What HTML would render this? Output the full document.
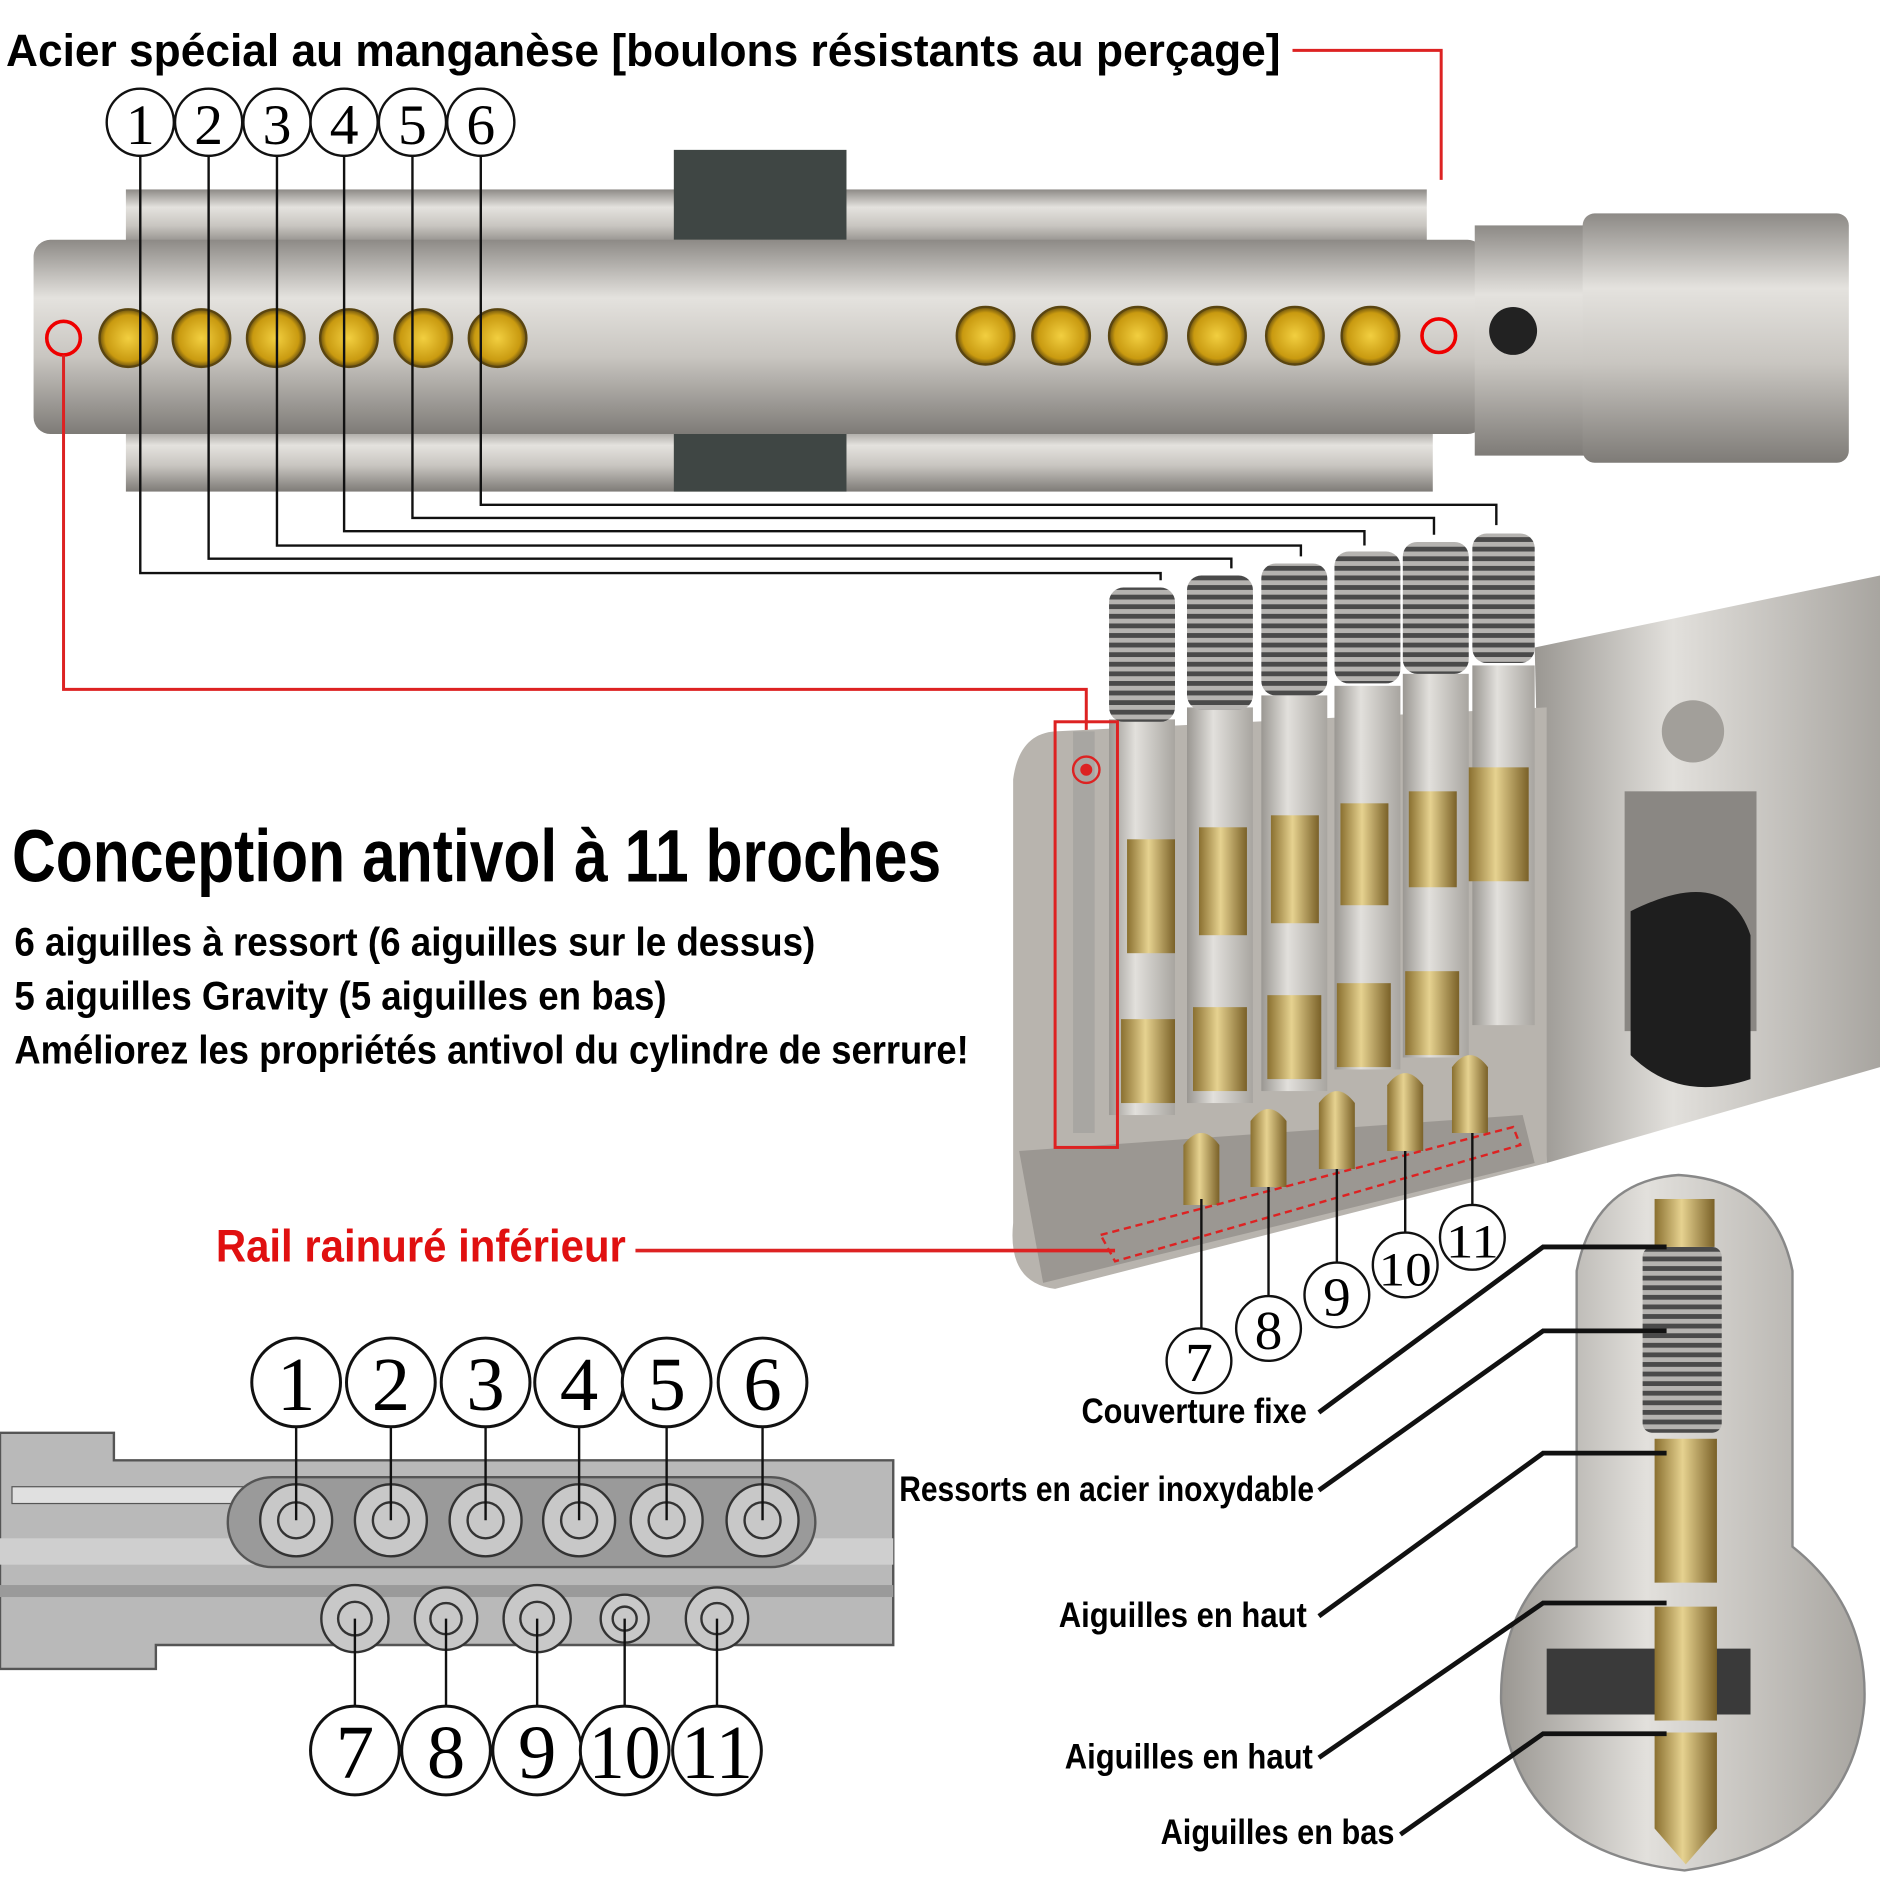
<!DOCTYPE html>
<html><head><meta charset="utf-8"><style>
html,body{margin:0;padding:0;background:#fff}
svg{display:block}
.t{font-family:"Liberation Sans Narrow","Liberation Sans",sans-serif;font-weight:bold}
</style></head><body>
<svg width="1880" height="1880" viewBox="0 0 1568 1568" xmlns="http://www.w3.org/2000/svg">
<defs>
<linearGradient id="sv" x1="0" y1="0" x2="0" y2="1">
<stop offset="0" stop-color="#8d8a86"/><stop offset="0.3" stop-color="#e4e2de"/><stop offset="0.6" stop-color="#c9c6c1"/><stop offset="1" stop-color="#7e7b77"/></linearGradient>
<linearGradient id="svh" x1="0" y1="0" x2="1" y2="0">
<stop offset="0" stop-color="#9a9792"/><stop offset="0.4" stop-color="#e2e0dc"/><stop offset="1" stop-color="#a8a5a0"/></linearGradient>
<linearGradient id="gd" x1="0" y1="0" x2="1" y2="0">
<stop offset="0" stop-color="#8a7030"/><stop offset="0.45" stop-color="#e6d290"/><stop offset="1" stop-color="#7a6128"/></linearGradient>
<radialGradient id="gdot"><stop offset="0" stop-color="#f2cf40"/><stop offset="0.8" stop-color="#c99a10"/><stop offset="1" stop-color="#6b5210"/></radialGradient>
<pattern id="spr" width="10" height="8" patternUnits="userSpaceOnUse"><rect width="10" height="8" fill="#b5b3b0"/><rect y="0" width="10" height="4" fill="#4a4a4a"/></pattern>
</defs>

<!-- top cylinder -->
<rect x="105" y="158" width="1085" height="50" fill="url(#sv)"/>
<rect x="105" y="355" width="1090" height="55" fill="url(#sv)"/>
<rect x="562" y="125" width="144" height="75" fill="#3f4644"/>
<rect x="562" y="360" width="144" height="50" fill="#3f4644"/>
<rect x="28" y="200" width="1210" height="162" rx="14" fill="url(#sv)"/>
<rect x="1230" y="188" width="100" height="192" fill="url(#sv)"/>
<rect x="1320" y="178" width="222" height="208" rx="10" fill="url(#sv)"/>
<circle cx="1262" cy="276" r="20" fill="#222"/>
<g fill="url(#gdot)" stroke="#5a4510" stroke-width="2">
<circle cx="107" cy="282" r="24"/><circle cx="168" cy="282" r="24"/><circle cx="230" cy="282" r="24"/><circle cx="291" cy="282" r="24"/><circle cx="353" cy="282" r="24"/><circle cx="415" cy="282" r="24"/>
<circle cx="822" cy="280" r="24"/><circle cx="885" cy="280" r="24"/><circle cx="949" cy="280" r="24"/><circle cx="1015" cy="280" r="24"/><circle cx="1080" cy="280" r="24"/><circle cx="1143" cy="280" r="24"/>
</g>
<g fill="none" stroke="#e00" stroke-width="3"><circle cx="53" cy="282" r="14"/><circle cx="1200" cy="280" r="14"/></g>

<text class="t" x="5" y="55" font-size="38" textLength="1063" lengthAdjust="spacingAndGlyphs">Acier spécial au manganèse [boulons résistants au perçage]</text>
<polyline points="1078,42 1202,42 1202,150" fill="none" stroke="#d22" stroke-width="2.5"/>

<!-- number circles top -->
<g fill="#fff" stroke="#111" stroke-width="2">
<circle cx="117" cy="102" r="28"/><circle cx="174" cy="102" r="28"/><circle cx="231" cy="102" r="28"/><circle cx="287" cy="102" r="28"/><circle cx="344" cy="102" r="28"/><circle cx="401" cy="102" r="28"/></g>
<g font-family="Liberation Serif,serif" font-size="48" text-anchor="middle">
<text x="117" y="120">1</text><text x="174" y="120">2</text><text x="231" y="120">3</text><text x="287" y="120">4</text><text x="344" y="120">5</text><text x="401" y="120">6</text></g>
<g fill="none" stroke="#111" stroke-width="2">
<polyline points="117,130 117,478 968,478 968,484"/>
<polyline points="174,130 174,466 1027,466 1027,474"/>
<polyline points="231,130 231,455 1085,455 1085,464"/>
<polyline points="287,130 287,443 1138,443 1138,455"/>
<polyline points="344,130 344,432 1196,432 1196,446"/>
<polyline points="401,130 401,421 1248,421 1248,438"/>
</g>
<polyline points="53,296 53,575 906,575 906,640" fill="none" stroke="#d22" stroke-width="2.5"/>

<!-- cutaway -->
<path d="M1280 540 L1568 480 L1568 890 L1290 970 Z" fill="url(#svh)"/>
<rect x="1355" y="660" width="110" height="200" fill="#8a8783"/>
<path d="M1360 760 Q1440 720 1460 780 L1460 900 Q1400 920 1360 880Z" fill="#1e1e1e"/>
<circle cx="1412" cy="610" r="26" fill="#a29f9a"/>
<path d="M880 610 L1290 590 L1290 970 L880 1075 Q840 1070 845 1020 L845 650 Q850 612 880 610Z" fill="#b8b4ae"/>
<path d="M850 960 L1270 930 L1280 970 L870 1070Z" fill="#9b9792"/>
<g>
<rect x="925" y="600" width="55" height="330" fill="url(#svh)"/>
<rect x="990" y="590" width="55" height="330" fill="url(#svh)"/>
<rect x="1052" y="580" width="55" height="330" fill="url(#svh)"/>
<rect x="1113" y="572" width="55" height="320" fill="url(#svh)"/>
<rect x="1170" y="562" width="55" height="320" fill="url(#svh)"/>
<rect x="1228" y="555" width="52" height="300" fill="url(#svh)"/>
</g>
<g fill="url(#spr)">
<rect x="925" y="490" width="55" height="112" rx="12"/>
<rect x="990" y="480" width="55" height="112" rx="12"/>
<rect x="1052" y="470" width="55" height="110" rx="12"/>
<rect x="1113" y="460" width="55" height="110" rx="12"/>
<rect x="1170" y="452" width="55" height="110" rx="12"/>
<rect x="1228" y="445" width="52" height="108" rx="12"/>
</g>
<g fill="url(#gd)">
<rect x="940" y="700" width="40" height="95"/><rect x="1000" y="690" width="40" height="90"/><rect x="1060" y="680" width="40" height="90"/><rect x="1118" y="670" width="40" height="85"/><rect x="1175" y="660" width="40" height="80"/><rect x="1225" y="640" width="50" height="95"/>
<rect x="935" y="850" width="45" height="70"/><rect x="995" y="840" width="45" height="70"/><rect x="1057" y="830" width="45" height="70"/><rect x="1115" y="820" width="45" height="70"/><rect x="1172" y="810" width="45" height="70"/>
<path d="M987 1005 L987 955 Q1002 935 1017 955 L1017 1005Z"/><path d="M1043 990 L1043 935 Q1058 915 1073 935 L1073 990Z"/><path d="M1100 975 L1100 920 Q1115 900 1130 920 L1130 975Z"/><path d="M1157 960 L1157 905 Q1172 885 1187 905 L1187 960Z"/><path d="M1211 945 L1211 890 Q1226 870 1241 890 L1241 945Z"/>
</g>
<rect x="880" y="602" width="52" height="355" fill="none" stroke="#d22" stroke-width="2.5"/>
<rect x="895" y="610" width="18" height="335" fill="#a8a6a2"/>
<circle cx="906" cy="642" r="11" fill="none" stroke="#d22" stroke-width="2"/><circle cx="906" cy="642" r="5" fill="#d22"/>
<polygon points="918,1030 1262,940 1268,955 930,1052" fill="none" stroke="#d22" stroke-width="2" stroke-dasharray="6,4"/>

<text class="t" x="10" y="735" font-size="62" textLength="775" lengthAdjust="spacingAndGlyphs">Conception antivol à 11 broches</text>
<text class="t" x="12" y="797" font-size="33" textLength="668" lengthAdjust="spacingAndGlyphs">6 aiguilles à ressort (6 aiguilles sur le dessus)</text>
<text class="t" x="12" y="842" font-size="33" textLength="544" lengthAdjust="spacingAndGlyphs">5 aiguilles Gravity (5 aiguilles en bas)</text>
<text class="t" x="12" y="887" font-size="33" textLength="796" lengthAdjust="spacingAndGlyphs">Améliorez les propriétés antivol du cylindre de serrure!</text>
<text class="t" x="180" y="1052" font-size="38" fill="#e01010" textLength="342" lengthAdjust="spacingAndGlyphs">Rail rainuré inférieur</text>
<line x1="530" y1="1043" x2="930" y2="1043" stroke="#d22" stroke-width="3"/>

<g stroke="#111" stroke-width="2">
<line x1="1002" y1="1000" x2="1002" y2="1108"/><line x1="1058" y1="990" x2="1058" y2="1082"/><line x1="1115" y1="975" x2="1115" y2="1054"/><line x1="1172" y1="960" x2="1172" y2="1028"/><line x1="1228" y1="945" x2="1228" y2="1006"/></g>
<g fill="#fff" stroke="#111" stroke-width="2">
<circle cx="1000" cy="1135" r="27"/><circle cx="1058" cy="1108" r="27"/><circle cx="1115" cy="1080" r="27"/><circle cx="1172" cy="1055" r="27"/><circle cx="1228" cy="1032" r="27"/></g>
<g font-family="Liberation Serif,serif" font-size="46" text-anchor="middle">
<text x="1000" y="1152">7</text><text x="1058" y="1125">8</text><text x="1115" y="1097">9</text><text x="1172" y="1072" font-size="40" textLength="44" lengthAdjust="spacingAndGlyphs">10</text><text x="1228" y="1049" font-size="40" textLength="44" lengthAdjust="spacingAndGlyphs">11</text></g>

<!-- bottom left diagram -->
<path d="M0 1195 L95 1195 L95 1218 L745 1218 L745 1372 L130 1372 L130 1392 L0 1392Z" fill="#b9b9b9" stroke="#555" stroke-width="2"/>
<rect x="10" y="1240" width="230" height="14" fill="#e0e0e0" stroke="#555"/>
<rect x="0" y="1322" width="745" height="10" fill="#9a9a9a"/>
<rect x="0" y="1283" width="745" height="22" fill="#cfcfcf"/>
<rect x="190" y="1232" width="490" height="75" rx="37" fill="#9a9a9a" stroke="#555" stroke-width="2"/>
<g fill="#c8c8c8" stroke="#333" stroke-width="2">
<circle cx="247" cy="1268" r="30"/><circle cx="326" cy="1268" r="30"/><circle cx="405" cy="1268" r="30"/><circle cx="483" cy="1268" r="30"/><circle cx="556" cy="1268" r="30"/><circle cx="636" cy="1268" r="30"/>
<circle cx="296" cy="1350" r="28"/><circle cx="372" cy="1350" r="26"/><circle cx="448" cy="1350" r="28"/><circle cx="521" cy="1350" r="20"/><circle cx="598" cy="1350" r="26"/></g>
<g fill="none" stroke="#333" stroke-width="2">
<circle cx="247" cy="1268" r="15"/><circle cx="326" cy="1268" r="15"/><circle cx="405" cy="1268" r="15"/><circle cx="483" cy="1268" r="15"/><circle cx="556" cy="1268" r="15"/><circle cx="636" cy="1268" r="15"/>
<circle cx="296" cy="1350" r="14"/><circle cx="372" cy="1350" r="13"/><circle cx="448" cy="1350" r="14"/><circle cx="521" cy="1350" r="10"/><circle cx="598" cy="1350" r="13"/></g>
<g stroke="#111" stroke-width="2">
<line x1="247" y1="1190" x2="247" y2="1268"/><line x1="326" y1="1190" x2="326" y2="1268"/><line x1="405" y1="1190" x2="405" y2="1268"/><line x1="483" y1="1190" x2="483" y2="1268"/><line x1="556" y1="1190" x2="556" y2="1268"/><line x1="636" y1="1190" x2="636" y2="1268"/>
<line x1="296" y1="1350" x2="296" y2="1423"/><line x1="372" y1="1350" x2="372" y2="1423"/><line x1="448" y1="1350" x2="448" y2="1423"/><line x1="521" y1="1350" x2="521" y2="1423"/><line x1="598" y1="1350" x2="598" y2="1423"/></g>
<g fill="#fff" stroke="#111" stroke-width="2.5">
<circle cx="247" cy="1153" r="37"/><circle cx="326" cy="1153" r="37"/><circle cx="405" cy="1153" r="37"/><circle cx="483" cy="1153" r="37"/><circle cx="556" cy="1153" r="37"/><circle cx="636" cy="1153" r="37"/>
<circle cx="296" cy="1460" r="37"/><circle cx="372" cy="1460" r="37"/><circle cx="448" cy="1460" r="37"/><circle cx="521" cy="1460" r="37"/><circle cx="598" cy="1460" r="37"/></g>
<g font-family="Liberation Serif,serif" font-size="64" text-anchor="middle">
<text x="247" y="1176">1</text><text x="326" y="1176">2</text><text x="405" y="1176">3</text><text x="483" y="1176">4</text><text x="556" y="1176">5</text><text x="636" y="1176">6</text>
<text x="296" y="1483">7</text><text x="372" y="1483">8</text><text x="448" y="1483">9</text><text x="521" y="1483" textLength="60" lengthAdjust="spacingAndGlyphs">10</text><text x="598" y="1483" textLength="60" lengthAdjust="spacingAndGlyphs">11</text></g>

<!-- bottom right pin figure -->
<path d="M1315 1060 Q1330 985 1400 980 Q1480 985 1495 1060 L1495 1290 Q1558 1340 1555 1420 Q1545 1540 1405 1560 Q1265 1545 1252 1420 Q1250 1335 1315 1290Z" fill="url(#svh)" stroke="#888" stroke-width="2"/>
<path d="M1290 1375 L1460 1375 L1460 1430 L1290 1430Z" fill="#3a3a3a"/>
<rect x="1380" y="1000" width="50" height="40" fill="url(#gd)"/>
<rect x="1370" y="1040" width="66" height="155" rx="8" fill="url(#spr)"/>
<rect x="1380" y="1200" width="52" height="120" fill="url(#gd)"/>
<rect x="1380" y="1340" width="52" height="95" fill="url(#gd)"/>
<path d="M1380 1445 L1432 1445 L1432 1525 L1406 1555 L1380 1525Z" fill="url(#gd)"/>

<g class="t" font-size="29" text-anchor="end">
<text x="1090" y="1187" textLength="188" lengthAdjust="spacingAndGlyphs">Couverture fixe</text>
<text x="1096" y="1252" textLength="346" lengthAdjust="spacingAndGlyphs">Ressorts en acier inoxydable</text>
<text x="1090" y="1357" textLength="207" lengthAdjust="spacingAndGlyphs">Aiguilles en haut</text>
<text x="1095" y="1475" textLength="207" lengthAdjust="spacingAndGlyphs">Aiguilles en haut</text>
<text x="1163" y="1538" textLength="195" lengthAdjust="spacingAndGlyphs">Aiguilles en bas</text>
</g>
<g fill="none" stroke="#111" stroke-width="4">
<polyline points="1100,1178 1287,1040 1390,1040"/>
<polyline points="1100,1243 1287,1110 1390,1110"/>
<polyline points="1100,1348 1287,1212 1390,1212"/>
<polyline points="1100,1466 1287,1337 1390,1337"/>
<polyline points="1168,1530 1287,1446 1390,1446"/>
</g>
</svg>
</body></html>
